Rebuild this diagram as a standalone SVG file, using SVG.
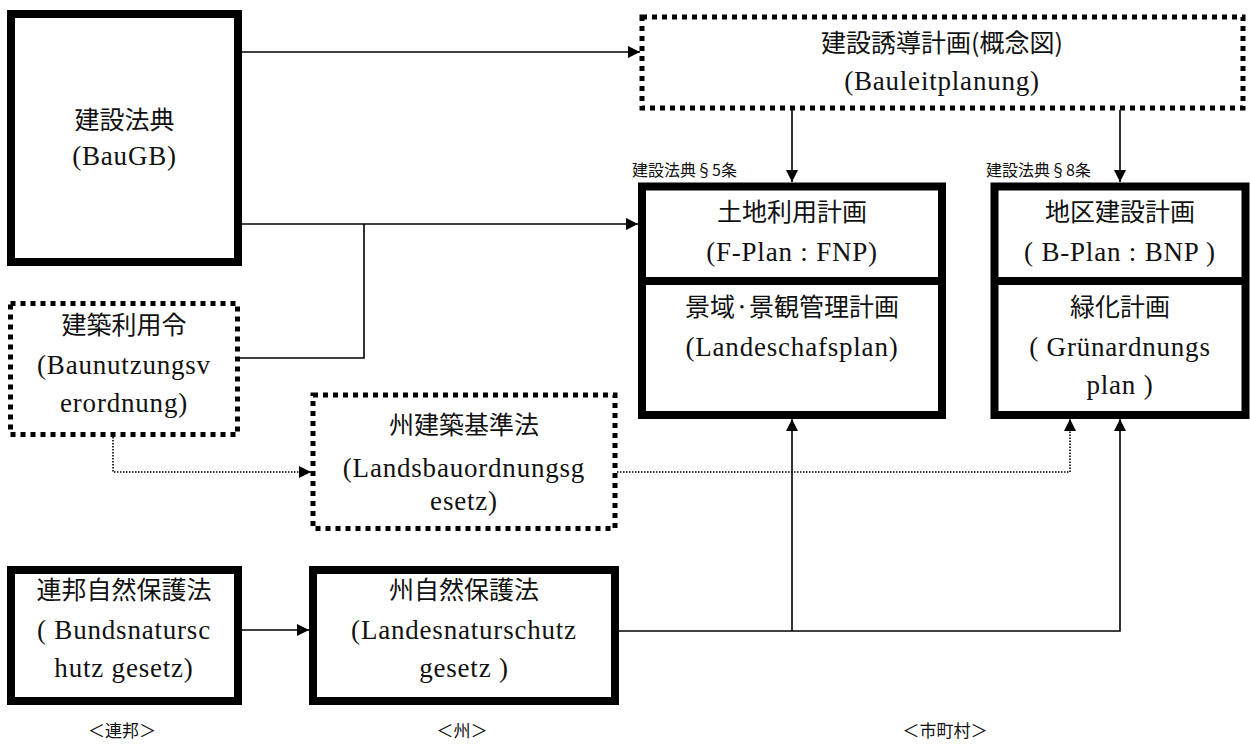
<svg xmlns="http://www.w3.org/2000/svg" width="1250" height="751" viewBox="0 0 1250 751">
<style>
.bg{fill:#fff}
.solid{fill:#fff;stroke:#000;stroke-width:8}
.dash{fill:#fff;stroke:#000;stroke-width:5;stroke-dasharray:5 5}
.t{font-family:'Liberation Serif',serif;font-size:27px;letter-spacing:0.8px;fill:#111;text-anchor:middle}
.j{font-family:'Noto Sans CJK JP',sans-serif;font-size:25px;fill:#111;text-anchor:middle}
.s{font-family:'Noto Sans CJK JP',sans-serif;font-size:16px;fill:#111}
.lab{font-family:'Noto Sans CJK JP',sans-serif;font-size:17px;fill:#111;text-anchor:middle}
.ln{fill:none;stroke:#000;stroke-width:1.6}
.dot{fill:none;stroke:#000;stroke-width:1.6;stroke-dasharray:1.5 1.5}
</style>
<defs>
<marker id="ah" viewBox="0 0 12 12" refX="12" refY="6" markerWidth="12" markerHeight="12" markerUnits="userSpaceOnUse" orient="auto">
<path d="M0,0 L12,6 L0,12 z" fill="#000"/>
</marker>
</defs>
<rect class="bg" x="0" y="0" width="1250" height="751"/>

<g id="connectors">
<line class="ln" x1="242" y1="52" x2="640" y2="52" marker-end="url(#ah)"/>
<line class="ln" x1="242" y1="224" x2="638" y2="224" marker-end="url(#ah)"/>
<polyline class="ln" points="240,358 364,358 364,224"/>
<line class="ln" x1="792" y1="110" x2="792" y2="182" marker-end="url(#ah)"/>
<line class="ln" x1="1120" y1="110" x2="1120" y2="182" marker-end="url(#ah)"/>
<polyline class="dot" points="113,437 113,472 311,472" marker-end="url(#ah)"/>
<polyline class="dot" points="617,472 1070,472 1070,419" marker-end="url(#ah)"/>
<line class="ln" x1="242" y1="630" x2="309" y2="630" marker-end="url(#ah)"/>
<polyline class="ln" points="619,631 1120,631 1120,419" marker-end="url(#ah)"/>
<line class="ln" x1="792" y1="631" x2="792" y2="419" marker-end="url(#ah)"/>
</g>

<g id="baugb">
<rect class="solid" x="11" y="14" width="227" height="248"/>
<text class="j" x="124.5" y="129">建設法典</text>
<text class="t" x="124.5" y="165">(BauGB)</text>
</g>

<g id="baunutzungsverordnung">
<rect class="dash" x="10.5" y="303.5" width="227" height="131"/>
<text class="j" x="124" y="334">建築利用令</text>
<text class="t" x="124" y="374">(Baunutzungsv</text>
<text class="t" x="124" y="412">erordnung)</text>
</g>

<g id="bauleitplanung">
<rect class="dash" x="642" y="17" width="601" height="91"/>
<text class="j" x="942" y="52">建設誘導計画(概念図)</text>
<text class="t" x="942" y="90">(Bauleitplanung)</text>
</g>

<g id="fplan">
<text class="s" x="632" y="176">建設法典§5条</text>
<rect class="solid" x="642" y="186.5" width="300" height="228.5"/>
<line x1="642" y1="281" x2="942" y2="281" stroke="#000" stroke-width="8"/>
<text class="j" x="792" y="221">土地利用計画</text>
<text class="t" x="792" y="261">(F-Plan : FNP)</text>
<text class="j" x="792" y="316">景域·景観管理計画</text>
<text class="t" x="792" y="356">(Landeschafsplan)</text>
</g>

<g id="bplan">
<text class="s" x="986" y="176">建設法典§8条</text>
<rect class="solid" x="994.5" y="186.5" width="251" height="228.5"/>
<line x1="994.5" y1="281" x2="1245.5" y2="281" stroke="#000" stroke-width="8"/>
<text class="j" x="1120" y="221">地区建設計画</text>
<text class="t" x="1120" y="261">( B-Plan : BNP )</text>
<text class="j" x="1120" y="316">緑化計画</text>
<text class="t" x="1120" y="356">( Grünardnungs</text>
<text class="t" x="1120" y="394">plan )</text>
</g>

<g id="landsbauordnung">
<rect class="dash" x="313" y="395" width="302" height="133.5"/>
<text class="j" x="464" y="434">州建築基準法</text>
<text class="t" x="464" y="477">(Landsbauordnungsg</text>
<text class="t" x="464" y="510">esetz)</text>
</g>

<g id="bundesnaturschutz">
<rect class="solid" x="11" y="570" width="227" height="131"/>
<text class="j" x="124" y="599">連邦自然保護法</text>
<text class="t" x="124" y="639">(  Bundsnatursc</text>
<text class="t" x="124" y="677">hutz gesetz)</text>
</g>

<g id="landesnaturschutz">
<rect class="solid" x="313" y="570" width="302" height="131"/>
<text class="j" x="464" y="599">州自然保護法</text>
<text class="t" x="464" y="639">(Landesnaturschutz</text>
<text class="t" x="464" y="677">gesetz )</text>
</g>

<g id="labels">
<text class="lab" x="122" y="737">＜連邦＞</text>
<text class="lab" x="462" y="737">＜州＞</text>
<text class="lab" x="945" y="737">＜市町村＞</text>
</g>
</svg>
